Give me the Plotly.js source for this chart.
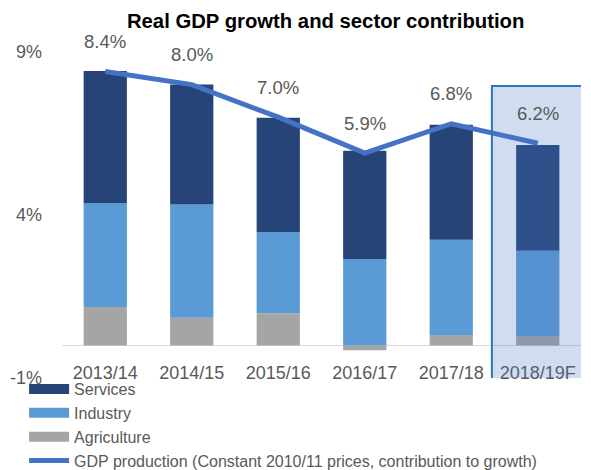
<!DOCTYPE html>
<html>
<head>
<meta charset="utf-8">
<script src="https://cdn.plot.ly/plotly-3.0.1.min.js"></script>
<style>html,body{margin:0;padding:0;background:#fff;}#chart{width:591px;height:470px;}</style>
</head>
<body>
<div id="chart"></div>
<script>
var categories = ["2013/14", "2014/15", "2015/16", "2016/17", "2017/18", "2018/19F"];
var services = [4.05, 3.68, 3.51, 3.32, 3.53, 3.25];
var industry = [3.19, 3.47, 2.48, 2.65, 2.92, 2.61];
var agriculture = [1.18, 0.85, 0.99, -0.15, 0.32, 0.29];
var gdp = [8.4, 8.0, 7.0, 5.9, 6.8, 6.2];
var gdpLabels = ["8.4%", "8.0%", "7.0%", "5.9%", "6.8%", "6.2%"];
var yTickVals = [-1, 4, 9];
var yTickText = ["-1%", "4%", "9%"];
var forecastCategory = "2018/19F";

var FONT = "Liberation Sans, Arial, sans-serif";
var GREY = "#595959";
var C_SERV = "#264478", C_IND = "#5B9BD5", C_AGR = "#A5A5A5", C_GDP = "#4472C4";

var traces = [
  {type: "bar", x: categories, y: agriculture, name: "Agriculture", marker: {color: C_AGR}, showlegend: false, hoverinfo: "y"},
  {type: "bar", x: categories, y: industry, name: "Industry", marker: {color: C_IND}, showlegend: false, hoverinfo: "y"},
  {type: "bar", x: categories, y: services, name: "Services", marker: {color: C_SERV}, showlegend: false, hoverinfo: "y"},
  {type: "scatter", mode: "lines", x: categories, y: gdp, name: "GDP production (Constant 2010/11 prices, contribution to growth)",
   line: {color: C_GDP, width: 5}, showlegend: false},
  // legend-only entries
  {type: "scatter", mode: "lines", x: [null], y: [null], name: "Services", line: {color: C_SERV, width: 10}, legendrank: 1},
  {type: "scatter", mode: "lines", x: [null], y: [null], name: "Industry", line: {color: C_IND, width: 10}, legendrank: 2},
  {type: "scatter", mode: "lines", x: [null], y: [null], name: "Agriculture", line: {color: C_AGR, width: 10}, legendrank: 3},
  {type: "scatter", mode: "lines", x: [null], y: [null], name: "GDP production (Constant 2010/11 prices, contribution to growth)", line: {color: C_GDP, width: 5}, legendrank: 4}
];

var annotations = categories.map(function (c, i) {
  return {x: c, y: gdp[i], text: gdpLabels[i], showarrow: false, yshift: 30,
          font: {family: FONT, size: 18.5, color: GREY}};
});

var fi = categories.indexOf(forecastCategory);

var layout = {
  width: 591, height: 470,
  margin: {l: 62, r: 10, t: 52, b: 92, autoexpand: false},
  paper_bgcolor: "#fff", plot_bgcolor: "#fff",
  barmode: "relative", bargap: 0.5,
  title: {text: "<b>Real GDP growth and sector contribution</b>", x: 0.551, xanchor: "center", y: 0.955, yanchor: "middle",
          font: {family: FONT, size: 20.3, color: "#000"}},
  xaxis: {type: "category", range: [-0.5, 5.5], showline: false, showgrid: false, zeroline: false, ticks: "",
          tickfont: {family: FONT, size: 18, color: GREY}, ticklabelstandoff: -18, fixedrange: true},
  yaxis: {range: [-1, 9], tickvals: yTickVals, ticktext: yTickText, showgrid: false, showline: false, ticks: "",
          zeroline: true, zerolinecolor: "#D9D9D9", zerolinewidth: 1.5,
          tickfont: {family: FONT, size: 18, color: GREY}, ticklabelstandoff: 19, fixedrange: true},
  legend: {orientation: "v", x: -0.073, xanchor: "left", y: 0.018, yanchor: "top", itemwidth: 40,
           font: {family: FONT, size: 16, color: GREY}, tracegroupgap: 0, bgcolor: "rgba(0,0,0,0)"},
  annotations: annotations,
  shapes: [{type: "rect", layer: "above", xref: "x", yref: "y", x0: fi - 0.53, x1: fi + 0.52, y0: -1.4, y1: 7.96,
            fillcolor: "rgba(68,114,196,0.25)", line: {color: "#2E75B6", width: 2}}],
  showlegend: true
};

Plotly.newPlot("chart", traces, layout, {staticPlot: true});
</script>
</body>
</html>
